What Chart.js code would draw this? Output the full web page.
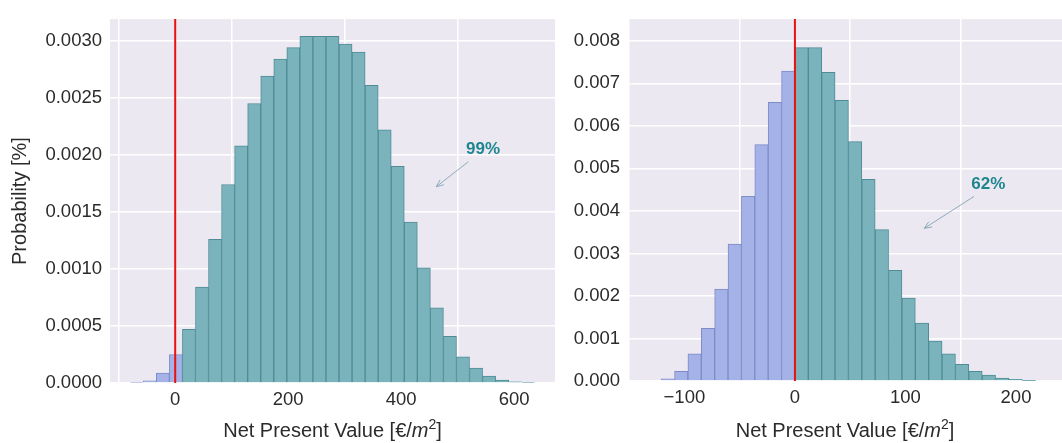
<!DOCTYPE html>
<html><head><meta charset="utf-8">
<script src="https://cdn.jsdelivr.net/npm/chart.js@4.4.0/dist/chart.umd.min.js"></script>
<style>
html,body{margin:0;padding:0;background:#fff;overflow:hidden;width:1062px;height:443px}
#cl{position:absolute;left:0;top:0}
#cr{position:absolute;left:560px;top:0}
</style></head><body>
<canvas id="cl" width="560" height="443"></canvas>
<canvas id="cr" width="502" height="443"></canvas>
<script>
// ---------- data ----------
const leftBinEdges = [-79.6,-56.5,-33.4,-10.3,12.8,35.9,59.0,82.1,105.2,128.3,151.4,174.5,197.6,220.7,243.8,266.9,
  290.0,313.1,336.2,359.3,382.4,405.5,428.6,451.7,474.8,497.9,521.0,544.1,567.2,590.3,613.4,636.5];
const leftDensity = [0.000006,0.00002,0.000086,0.00025,0.00047,0.00084,0.00126,0.00174,0.00208,0.00245,0.00269,
  0.00284,0.00294,0.00304,0.00304,0.00304,0.00297,0.00290,0.00261,0.00222,0.00190,0.00141,0.00101,0.00066,
  0.00041,0.00023,0.00013,0.00006,0.000026,0.00001,0.000004];
const rightBinEdges = [-121.0,-108.9,-96.8,-84.7,-72.6,-60.5,-48.4,-36.3,-24.2,-12.1,0,12.1,24.2,36.3,48.4,60.5,
  72.6,84.7,96.8,108.9,121.0,133.1,145.2,157.3,169.4,181.5,193.6,205.7,217.8];
const rightDensity = [0.00005,0.00023,0.00064,0.00124,0.00216,0.00322,0.00434,0.00556,0.00655,0.00729,
  0.00784,0.00784,0.00726,0.00660,0.00563,0.00474,0.00356,0.00260,0.00195,0.00136,0.00094,0.00064,
  0.00039,0.00023,0.00014,0.00007,0.00004,0.00001];
const leftXTicks = [0,200,400,600];
const leftYTicks = [0,0.0005,0.0010,0.0015,0.0020,0.0025,0.0030];
const rightXTicks = [-100,0,100,200];
const rightYTicks = [0,0.001,0.002,0.003,0.004,0.005,0.006,0.007,0.008];
const leftShare = '99%';
const rightShare = '62%';
const xTitle = ['Net Present Value [€/', 'm', '2', ']'];
const yTitle = 'Probability [%]';

// ---------- styles ----------
const FONT = "'Liberation Sans', Arial, sans-serif";
const TXT = '#2b2b2b';
const BG = '#EBE8F1';
const TEAL = '#7ab3bb', TEAL_EDGE = '#4f8c96';
const BLUE = '#a5b2e8', BLUE_EDGE = '#7d8bc8';

function fmtX(v){ return v < 0 ? '\u2212' + Math.abs(v) : String(v); }

const bgPlugin = {
  id: 'bg',
  beforeDraw(chart){
    const {ctx, chartArea:a} = chart;
    ctx.save(); ctx.fillStyle = BG;
    ctx.fillRect(a.left, a.top, a.right - a.left, a.bottom - a.top);
    ctx.restore();
  }
};
const zeroLine = {
  id: 'zeroLine',
  afterDatasetsDraw(chart){
    const {ctx, chartArea:a, scales:{x}} = chart;
    const px = x.getPixelForValue(0);
    ctx.save(); ctx.strokeStyle = '#e8120f'; ctx.lineWidth = 2;
    ctx.beginPath(); ctx.moveTo(px, a.top); ctx.lineTo(px, a.bottom); ctx.stroke();
    ctx.restore();
  }
};
const decor = {
  id: 'decor',
  afterDraw(chart, args, o){
    const {ctx, chartArea:a, scales:{x, y}} = chart;
    ctx.save();
    // annotation arrow
    const x0 = x.getPixelForValue(o.from[0]), y0 = y.getPixelForValue(o.from[1]);
    const x1 = x.getPixelForValue(o.to[0]),   y1 = y.getPixelForValue(o.to[1]);
    ctx.strokeStyle = '#8fabbb'; ctx.lineWidth = 1;
    ctx.beginPath(); ctx.moveTo(x0, y0); ctx.lineTo(x1, y1); ctx.stroke();
    const ang = Math.atan2(y1 - y0, x1 - x0), h = 8;
    ctx.beginPath();
    ctx.moveTo(x1 - h*Math.cos(ang - 0.4), y1 - h*Math.sin(ang - 0.4));
    ctx.lineTo(x1, y1);
    ctx.lineTo(x1 - h*Math.cos(ang + 0.4), y1 - h*Math.sin(ang + 0.4));
    ctx.stroke();
    // annotation text
    ctx.fillStyle = '#1f8690'; ctx.font = 'bold 17px ' + FONT;
    ctx.textAlign = 'center'; ctx.textBaseline = 'middle';
    ctx.fillText(o.text, x.getPixelForValue(o.at[0]), y.getPixelForValue(o.at[1]));
    // x-axis title with italic m and superscript 2
    const f = '20px ' + FONT, fi = 'italic 20px ' + FONT, fs = '14px ' + FONT;
    ctx.textAlign = 'left'; ctx.textBaseline = 'alphabetic'; ctx.fillStyle = TXT;
    const parts = [[xTitle[0], f, 0], [xTitle[1], fi, 0], [xTitle[2], fs, -8], [xTitle[3], f, 0]];
    let w = 0;
    parts.forEach(p => { ctx.font = p[1]; w += ctx.measureText(p[0]).width; });
    let cx = (a.left + a.right)/2 - w/2;
    const base = o.titleY;
    parts.forEach(p => { ctx.font = p[1]; ctx.fillText(p[0], cx, base + p[2]); cx += ctx.measureText(p[0]).width; });
    ctx.restore();
  }
};

function makeChart(id, edges, dens, xTicks, yTicks, xmin, xmax, ymax, yDigits, yAxisW, padTop, padRight, xAxisH, yTitleOn, ann){
  const data = dens.map((d, i) => ({x: (edges[i] + edges[i+1]) / 2, y: d}));
  return new Chart(document.getElementById(id), {
    type: 'bar',
    data: { datasets: [{
      data,
      backgroundColor: c => edges[c.dataIndex] < 0 ? BLUE : TEAL,
      borderColor: c => edges[c.dataIndex] < 0 ? BLUE_EDGE : TEAL_EDGE,
      borderWidth: 1,
      barPercentage: 1, categoryPercentage: 1, grouped: false
    }]},
    options: {
      responsive: false, animation: false, events: [],
      layout: { padding: { top: padTop, right: padRight, left: 0, bottom: 0 } },
      plugins: { legend: {display: false}, tooltip: {enabled: false}, decor: ann },
      scales: {
        x: {
          type: 'linear', offset: false, min: xmin, max: xmax,
          afterBuildTicks: s => { s.ticks = xTicks.map(v => ({value: v})); },
          afterFit: s => { s.height = xAxisH; },
          grid: { color: '#ffffff', lineWidth: 1.5, drawTicks: false },
          border: { display: false },
          ticks: { color: TXT, font: {family: FONT, size: 18.5}, padding: 6, maxRotation: 0, callback: v => fmtX(v) }
        },
        y: {
          min: 0, max: ymax,
          afterBuildTicks: s => { s.ticks = yTicks.map(v => ({value: v})); },
          afterFit: s => { s.width = yAxisW; },
          grid: { color: '#ffffff', lineWidth: 1.5, drawTicks: false },
          border: { display: false },
          ticks: { color: TXT, font: {family: FONT, size: 18.5}, padding: 8, callback: v => Number(v).toFixed(yDigits) },
          title: { display: yTitleOn, text: yTitle, color: TXT, font: {family: FONT, size: 20}, padding: {top: 8, bottom: 0} }
        }
      }
    },
    plugins: [bgPlugin, zeroLine, decor]
  });
}

makeChart('cl', leftBinEdges, leftDensity, leftXTicks, leftYTicks, -115.4, 672.3, 0.00319, 4, 110, 12, 5, 60, true,
  { text: leftShare, at: [545, 0.00205], from: [519, 0.00194], to: [462, 0.00172], titleY: 437 });
makeChart('cr', rightBinEdges, rightDensity, rightXTicks, rightYTicks, -151, 241.6, 0.00851, 3, 68, 11, 0, 62, false,
  { text: rightShare, at: [175, 0.00462], from: [162, 0.00434], to: [117, 0.00359], titleY: 437 });
</script>
</body></html>
